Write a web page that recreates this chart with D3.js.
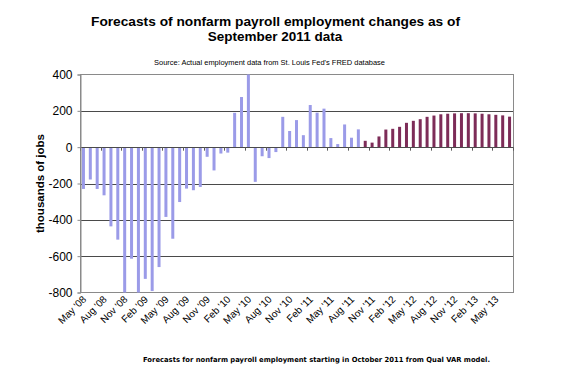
<!DOCTYPE html>
<html>
<head>
<meta charset="utf-8">
<script src="https://cdn.jsdelivr.net/npm/d3@7"></script>
<style>
  html, body { margin: 0; padding: 0; background: #fff; }
  svg { display: block; font-family: "Liberation Sans", Arial, sans-serif; }
</style>
</head>
<body>
<svg id="chart" width="582" height="383"></svg>
<script>
// ---- data ----
const actualValues = [
  -230, -178, -230, -265, -436, -509, -800, -614, -800, -725, -792, -660,
  -384, -504, -302, -228, -237, -219, -53, -128, -35, -30, 189, 276,
  400, -191, -50, -60, -27, 167, 89, 149, 66, 232, 190, 212,
  50, 17, 125, 52, 98
];
const forecastValues = [
  35, 25, 59, 97, 101, 112, 134, 145, 154, 167, 174, 181,
  184, 186, 187, 187, 186, 184, 181, 178, 175, 168
];
const tickLabels = [
  "May '08", "Aug '08", "Nov '08", "Feb '09", "May '09", "Aug '09", "Nov '09",
  "Feb '10", "May '10", "Aug '10", "Nov '10", "Feb '11", "May '11", "Aug '11",
  "Nov '11", "Feb '12", "May '12", "Aug '12", "Nov '12", "Feb '13", "May '13"
];
const yTicks = [400, 200, 0, -200, -400, -600, -800];
const titleLines = ["Forecasts of nonfarm payroll employment changes as of", "September 2011 data"];
const sourceText = "Source: Actual employment data from St. Louis Fed's FRED database";
const captionText = "Forecasts for nonfarm payroll employment starting in October 2011 from Qual VAR model.";
const yTitle = "thousands of jobs";

// categories: one per month, May 2008 onwards
const nCats = actualValues.length + forecastValues.length;
const categories = d3.range(nCats);
const bars = actualValues.map((v, i) => ({ i, v, type: "actual" }))
  .concat(forecastValues.map((v, j) => ({ i: actualValues.length + j, v, type: "forecast" })));

// ---- layout ----
const L = 80, R = 513, T = 74.5, B = 292.5;
const svg = d3.select("#chart");

const x = d3.scaleBand().domain(categories).range([L, R]).padding(0);
const y = d3.scaleLinear().domain([-800, 400]).range([B, T]);

// gridlines
svg.append("g").selectAll("line")
  .data(yTicks.filter(t => t !== 400 && t !== -800 && t !== 0))
  .join("line")
  .attr("x1", L).attr("x2", R)
  .attr("y1", d => Math.round(y(d)) + 0.5).attr("y2", d => Math.round(y(d)) + 0.5)
  .attr("stroke", "#4a4a4a").attr("stroke-width", 1);

// plot border
svg.append("rect")
  .attr("x", L + 0.5).attr("y", T).attr("width", R - L).attr("height", B - T)
  .attr("fill", "none").attr("stroke", "#8a8a8a").attr("stroke-width", 1);

// bars
const bw = 3;
svg.append("g").selectAll("rect")
  .data(bars)
  .join("rect")
  .attr("x", d => x(d.i) + x.bandwidth() / 2 - bw / 2)
  .attr("width", bw)
  .attr("y", d => y(Math.max(0, d.v)))
  .attr("height", d => Math.abs(y(d.v) - y(0)))
  .attr("fill", d => d.type === "actual" ? "#9b9be8" : "#7d2c58");

// zero axis line
svg.append("line")
  .attr("x1", L).attr("x2", R)
  .attr("y1", Math.round(y(0)) + 0.5).attr("y2", Math.round(y(0)) + 0.5)
  .attr("stroke", "#4a4a4a").attr("stroke-width", 1);

// x ticks at zero line every 3 categories
const tickIdx = d3.range(0, nCats + 1, 3);
svg.append("g").selectAll("line")
  .data(tickIdx)
  .join("line")
  .attr("x1", d => Math.round(L + d * x.step()) + 0.5)
  .attr("x2", d => Math.round(L + d * x.step()) + 0.5)
  .attr("y1", y(0)).attr("y2", y(0) + 3.5)
  .attr("stroke", "#5a5a5a");

// y axis
const yAxis = svg.append("g").attr("transform", `translate(${L + 0.5},0)`)
  .call(d3.axisLeft(y).tickValues(yTicks).tickSize(3).tickPadding(5).tickFormat(d => String(d)));
yAxis.select(".domain").attr("stroke", "#8a8a8a");
yAxis.selectAll(".tick line").attr("stroke", "#8a8a8a");
yAxis.selectAll(".tick text")
  .attr("font-size", 12).attr("fill", "#000")
  .attr("font-family", "'Liberation Sans', Arial, sans-serif");

// x labels (rotated)
svg.append("g").selectAll("text")
  .data(tickLabels)
  .join("text")
  .attr("transform", (d, k) => {
    const cx = x(k * 3) + x.bandwidth() / 2 + 1;
    return `translate(${cx},${B + 5}) rotate(-45)`;
  })
  .attr("text-anchor", "end")
  .attr("dy", "0.35em")
  .attr("font-size", 10)
  .attr("fill", "#000")
  .text(d => d);

// y title
svg.append("text")
  .attr("transform", `translate(44,${(T + B) / 2}) rotate(-90)`)
  .attr("text-anchor", "middle")
  .attr("font-size", 11.5)
  .attr("font-weight", "bold")
  .text(yTitle);

// title
svg.append("text")
  .attr("x", 275.5).attr("y", 25.5)
  .attr("text-anchor", "middle")
  .attr("font-size", 13.5).attr("font-weight", "bold")
  .attr("textLength", 369).attr("lengthAdjust", "spacingAndGlyphs")
  .text(titleLines[0]);
svg.append("text")
  .attr("x", 275).attr("y", 41)
  .attr("text-anchor", "middle")
  .attr("font-size", 13.5).attr("font-weight", "bold")
  .text(titleLines[1]);

// source
svg.append("text")
  .attr("x", 154).attr("y", 65)
  .attr("font-size", 7.5)
  .attr("textLength", 231).attr("lengthAdjust", "spacingAndGlyphs")
  .text(sourceText);

// caption
svg.append("text")
  .attr("x", 143).attr("y", 362)
  .attr("font-size", 7)
  .attr("font-weight", "bold")
  .attr("font-family", "'DejaVu Sans', Verdana, sans-serif")
  .attr("textLength", 347).attr("lengthAdjust", "spacingAndGlyphs")
  .text(captionText);
</script>
</body>
</html>
